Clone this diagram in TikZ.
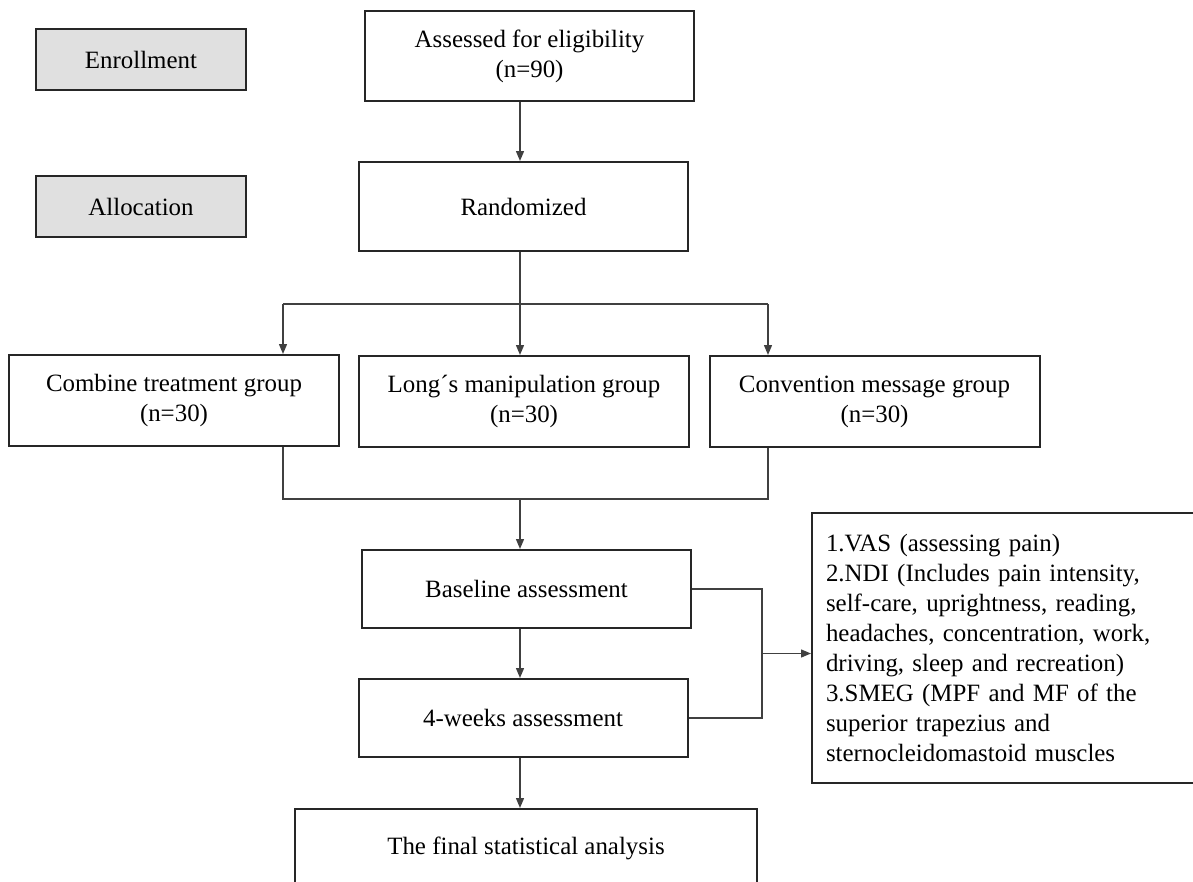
\documentclass[tikz,border=0pt]{standalone}
\usepackage{fontspec}
\setmainfont{Liberation Serif}
\usetikzlibrary{arrows.meta,calc}
\tikzset{
%Define standard arrow tip
>={Triangle[length=10bp,width=8bp]},
%Define styles for the boxes
stage/.style={draw=black!85, line width=2.4bp, fill=black!12, minimum width=210bp, minimum height=61bp, inner sep=0pt},
box/.style={draw=black!85, line width=2bp, fill=white, align=center, inner sep=0pt},
group/.style={box, minimum width=330bp, minimum height=91bp},
assess/.style={box, minimum width=329bp, minimum height=78bp},
%Define styles for the lines
connection/.style={draw=black!75, line width=1.4bp},
flow/.style={connection, ->},
}

\begin{document}
\begin{tikzpicture}[x=1bp, y=-1bp, every node/.style={font=\fontsize{25}{30}\selectfont}]
    \useasboundingbox (0,0) rectangle (1193,882);
    \clip (0,0) rectangle (1193,882);

    % Stage labels
    \node[stage] (enroll) at (141,59.5) {Enrollment};
    \node[stage] (alloc) at (141,206.5) {Allocation};

    % Main column
    \node[box, minimum width=329bp, minimum height=90bp] (assessed) at (529.5,56) {Assessed for eligibility\\(n=90)};
    \node[box, minimum width=329bp, minimum height=89bp] (random) at (523.5,206.5) {Randomized};

    \node[group] (combine) at (174,400.5) {Combine treatment group\\(n=30)};
    \node[group] (longs) at (524,401.5) {Long´s manipulation group\\(n=30)};
    \node[group] (convention) at (874.5,401.5) {Convention message group\\(n=30)};

    \node[assess] (baseline) at (526.5,589) {Baseline assessment};
    \node[assess] (weeks) at (523,718) {4-weeks assessment};
    \node[box, minimum width=462bp, minimum height=78bp] (final) at (526,848) {The final statistical analysis};

    \node[box, anchor=west, align=left, text width=370bp, inner xsep=14bp, minimum height=270bp] (outcomes) at (811,648)
    {1.VAS (assessing pain)\\
     2.NDI (Includes pain intensity,\\
     self-care, uprightness, reading,\\
     headaches, concentration, work,\\
     driving, sleep and recreation)\\
     3.SMEG (MPF and MF of the\\
     superior trapezius and\\
     sternocleidomastoid muscles};

    % Help coordinates for the connectors
    \path
    coordinate (mid) at (520,0)
    coordinate (lx) at (283,0)
    coordinate (rx) at (768,0)
    coordinate (split) at (520,304)
    coordinate (merge) at (520,499)
    coordinate (join) at (762,653.5);

    \draw[flow] (assessed.south -| mid) -- (random.north -| mid);
    \draw[connection] (random.south -| mid) -- (split);
    \draw[connection] (split -| lx) -- (split -| rx);
    \draw[flow] (split -| lx) -- (combine.north -| lx);
    \draw[flow] (split) -- (longs.north -| mid);
    \draw[flow] (split -| rx) -- (convention.north -| rx);

    \draw[connection] (combine.south -| lx) -- (merge -| lx) -- (merge -| rx) -- (convention.south -| rx);
    \draw[flow] (merge) -- (baseline.north -| mid);
    \draw[flow] (baseline.south -| mid) -- (weeks.north -| mid);
    \draw[flow] (weeks.south -| mid) -- (final.north -| mid);

    \draw[connection] (baseline.east) -- (baseline.east -| join) -- (weeks.east -| join) -- (weeks.east);
    \draw[flow] (join) -- (join -| outcomes.west);
\end{tikzpicture}
\end{document}
